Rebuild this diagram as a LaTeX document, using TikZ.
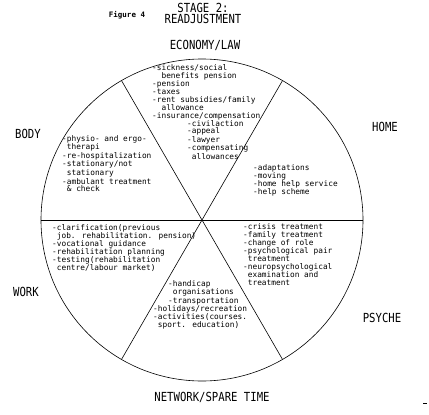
\documentclass[tikz,border=0pt]{standalone}
\usepackage{fontspec}
\newfontfamily\listfont{DejaVu Sans Mono}
\newfontfamily\areafont{DejaVu Sans Mono}[FakeStretch=0.85]
\usetikzlibrary{positioning}

\begin{document}
\begin{tikzpicture}[
    x=1pt, y=-1pt,
    area/.style={font=\areafont\fontsize{12.5}{11}\selectfont, inner sep=0pt, align=center},
    items/.style={font=\listfont\fontsize{7.8}{8}\selectfont, align=left, anchor=north west, inner sep=0pt},
    wheel/.style={line width=0.6pt}
]
\useasboundingbox (0,0) rectangle (429,415);

% Wheel
\coordinate (c) at (202,220);
\draw[wheel] (c) circle[radius=161pt];
\foreach \a in {0,60,120}
    \draw[wheel] (c) ++(\a:161pt) -- ++(\a+180:322pt);

% Title
\node[area] (stage) at (203,8) {STAGE 2:};
\node[area, below=1.5pt of stage] (readjust) {READJUSTMENT};
\node[font=\listfont\bfseries\fontsize{7.5}{8}\selectfont, inner sep=0pt] (fig) at (127,15) {Figure 4};

% Areas
\node[area] (economy) at (205,45) {ECONOMY/LAW};
\node[area] (body) at (28,134) {BODY};
\node[area] (home) at (385,127) {HOME};
\node[area] (work) at (26,292) {WORK};
\node[area] (psyche) at (382,318) {PSYCHE};
\node[area] (network) at (212,397) {NETWORK/SPARE TIME};

% Economy/law items
\node[items] (econ) at (152,64) {-sickness/social\\
    \hspace*{1.2em}benefits pension\\
    -pension\\
    -taxes\\
    -rent subsidies/family\\
    \hspace*{1.2em}allowance\\
    -insurance/compensation};
\node[items, font=\listfont\fontsize{7.8}{7.5}\selectfont] (law) at (187,120) {-civilaction\\
    -appeal\\
    -lawyer\\
    -compensating\\
    \hspace*{0.6em}allowances};

% Body items
\node[items, font=\listfont\fontsize{7.8}{7.2}\selectfont] (bodyitems) at (62,135) {-physio- and ergo-\\
    \hspace*{0.6em}therapi\\
    -re-hospitalization\\
    -stationary/not\\
    \hspace*{0.6em}stationary\\
    -ambulant treatment\\
    \hspace*{0.6em}\& check};

% Home items
\node[items] (homeitems) at (253,164) {-adaptations\\
    -moving\\
    -home help service\\
    -help scheme};

% Psyche items
\node[items] (psycheitems) at (243,223) {-crisis treatment\\
    -family treatment\\
    -change of role\\
    -psychological pair\\
    \hspace*{0.6em}treatment\\
    -neuropsychological\\
    \hspace*{0.6em}examination and\\
    \hspace*{0.6em}treatment};

% Work items
\node[items] (workitems) at (52,224) {-clarification(previous\\
    \hspace*{0.6em}job. rehabilitation. pension)\\
    -vocational guidance\\
    -rehabilitation planning\\
    -testing(rehabilitation\\
    \hspace*{0.6em}centre/labour market)};

% Network/spare time items
\node[items, font=\listfont\fontsize{7.8}{7}\selectfont] (handicap) at (168,280) {-handicap\\
    \hspace*{0.6em}organisations\\
    -transportation};
\node[items] (leisure) at (153,305) {-holidays/recreation\\
    -activities(courses.\\
    \hspace*{0.6em}sport. education)};

\draw[wheel] (423,403) -- (427,403);
\end{tikzpicture}
\end{document}
